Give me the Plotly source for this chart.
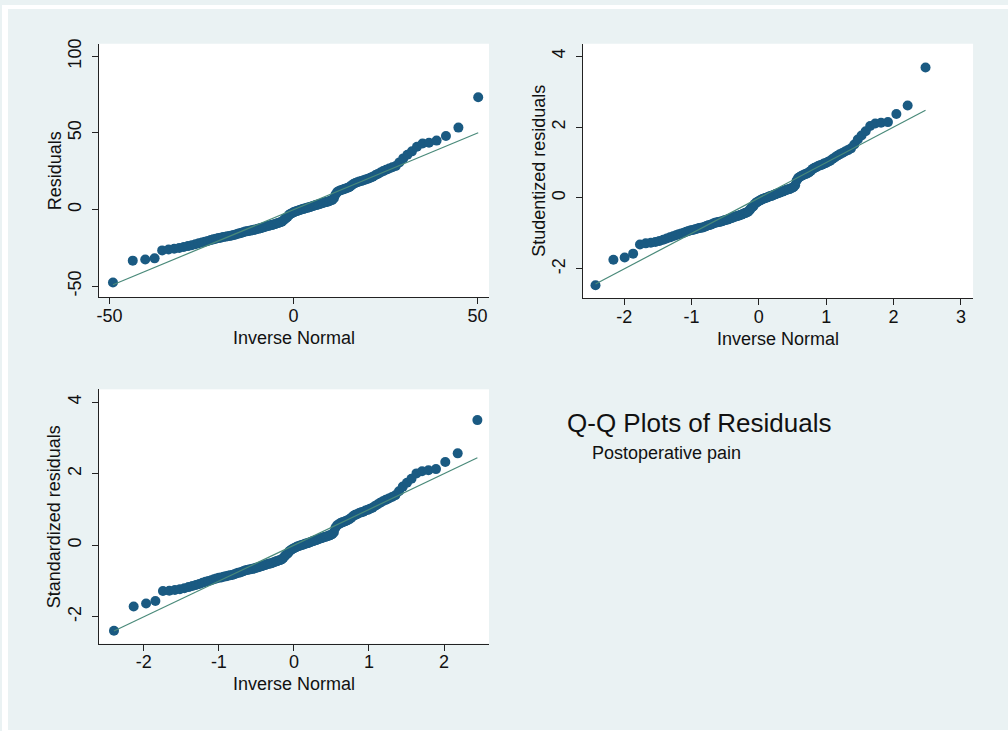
import statistics
import plotly.graph_objects as go

# Sorted residuals from the postoperative pain model (n = 130)
residuals = [
    -47.6, -33.3, -32.5, -31.8, -26.6, -26.0, -25.5, -25.0, -24.4, -23.8,
    -23.2, -22.6, -22.0, -21.4, -20.9, -20.4, -19.9, -19.4, -19.0, -18.6,
    -18.3, -17.9, -17.7, -17.4, -17.2, -16.9, -16.5, -16.2, -15.8, -15.5,
    -15.1, -14.7, -14.3, -14.1, -13.9, -13.7, -13.5, -13.2, -12.9, -12.7,
    -12.4, -12.1, -11.8, -11.5, -11.2, -10.9, -10.6, -10.4, -10.1, -9.8,
    -9.5, -9.2, -8.9, -8.6, -8.3, -7.9, -7.1, -6.2, -5.4, -4.7,
    -3.4, -2.8, -2.3, -1.8, -1.4, -1.0, -0.7, -0.4, -0.1, 0.2,
    0.5, 0.8, 1.1, 1.3, 1.6, 1.9, 2.2, 2.5, 2.8, 3.1,
    3.4, 3.7, 4.0, 4.3, 4.6, 4.9, 5.2, 5.5, 5.9, 6.3,
    7.4, 9.9, 11.5, 12.1, 12.6, 13.0, 13.4, 13.8, 14.2, 14.8,
    15.8, 16.7, 17.3, 17.8, 18.3, 18.7, 19.2, 19.7, 20.2, 20.8,
    21.5, 22.4, 23.3, 24.2, 25.1, 26.0, 26.8, 27.6, 28.5, 30.8,
    33.4, 35.8, 38.0, 41.0, 43.1, 43.6, 45.0, 48.0, 53.5, 73.3,
]

# Sorted studentized residuals
studentized = [
    -2.46, -1.74, -1.68, -1.57, -1.31, -1.28, -1.26, -1.24, -1.21, -1.18,
    -1.14, -1.11, -1.08, -1.05, -1.02, -1.00, -0.98, -0.95, -0.93, -0.91,
    -0.90, -0.88, -0.87, -0.85, -0.84, -0.83, -0.81, -0.79, -0.77, -0.76,
    -0.74, -0.72, -0.70, -0.69, -0.68, -0.67, -0.66, -0.65, -0.63, -0.62,
    -0.61, -0.59, -0.58, -0.56, -0.55, -0.53, -0.52, -0.51, -0.50, -0.48,
    -0.47, -0.45, -0.44, -0.42, -0.41, -0.39, -0.35, -0.30, -0.26, -0.23,
    -0.17, -0.14, -0.11, -0.09, -0.07, -0.05, -0.03, -0.02, 0.00, 0.01,
    0.02, 0.04, 0.05, 0.06, 0.08, 0.09, 0.11, 0.12, 0.14, 0.15,
    0.17, 0.18, 0.20, 0.21, 0.23, 0.24, 0.25, 0.27, 0.29, 0.31,
    0.36, 0.49, 0.56, 0.59, 0.62, 0.64, 0.66, 0.68, 0.70, 0.73,
    0.77, 0.82, 0.85, 0.87, 0.90, 0.92, 0.94, 0.97, 0.99, 1.02,
    1.05, 1.10, 1.14, 1.19, 1.23, 1.27, 1.31, 1.35, 1.40, 1.51,
    1.65, 1.76, 1.88, 2.03, 2.10, 2.12, 2.14, 2.37, 2.61, 3.68,
]

# Sorted standardized residuals
standardized = [
    -2.39, -1.71, -1.63, -1.56, -1.28, -1.27, -1.25, -1.23, -1.20, -1.17,
    -1.14, -1.11, -1.08, -1.05, -1.02, -1.00, -0.98, -0.95, -0.93, -0.91,
    -0.90, -0.88, -0.87, -0.85, -0.84, -0.83, -0.81, -0.79, -0.77, -0.76,
    -0.74, -0.72, -0.70, -0.69, -0.68, -0.67, -0.66, -0.65, -0.63, -0.62,
    -0.61, -0.59, -0.58, -0.56, -0.55, -0.53, -0.52, -0.51, -0.50, -0.48,
    -0.47, -0.45, -0.44, -0.42, -0.41, -0.39, -0.35, -0.30, -0.26, -0.23,
    -0.17, -0.14, -0.11, -0.09, -0.07, -0.05, -0.03, -0.02, 0.00, 0.01,
    0.02, 0.04, 0.05, 0.06, 0.08, 0.09, 0.11, 0.12, 0.14, 0.15,
    0.17, 0.18, 0.20, 0.21, 0.23, 0.24, 0.25, 0.27, 0.29, 0.31,
    0.36, 0.49, 0.56, 0.59, 0.62, 0.64, 0.66, 0.68, 0.70, 0.73,
    0.77, 0.82, 0.85, 0.87, 0.90, 0.92, 0.94, 0.97, 0.99, 1.02,
    1.05, 1.10, 1.14, 1.19, 1.23, 1.27, 1.31, 1.35, 1.40, 1.51,
    1.64, 1.75, 1.86, 2.01, 2.07, 2.10, 2.13, 2.33, 2.57, 3.50,
]

y_titles = ["Residuals", "Studentized residuals", "Standardized residuals"]
x_title = "Inverse Normal"
main_title = "Q-Q Plots of Residuals"
sub_title = "Postoperative pain"

x_ticks = [[-50, 0, 50], [-2, -1, 0, 1, 2, 3], [-2, -1, 0, 1, 2]]
y_ticks = [[-50, 0, 50, 100], [-2, 0, 2, 4], [-2, 0, 2, 4]]

W, H = 1008, 731
FONT = "Liberation Sans, Arial, Helvetica, sans-serif"
BG = "#eaf2f3"
MARKER = "#1a5a82"
REFLINE = "#4a8a7a"
INK = "#111111"


def px_x(p):
    return p / W


def px_y(p):
    return 1 - p / H


def qnorm_points(values):
    """Theoretical normal quantiles (mean/sd of the sample), as in Stata's qnorm."""
    n = len(values)
    m = statistics.fmean(values)
    s = statistics.stdev(values)
    nd = statistics.NormalDist()
    xs = [m + s * nd.inv_cdf(i / (n + 1)) for i in range(1, n + 1)]
    return xs, sorted(values)


# panel geometry in pixels: (left, right, top, bottom)
panels = [
    (97, 488, 39, 294),
    (582, 973, 39, 295),
    (97, 488, 387, 643),
]
x_ranges = [[-52.9, 53.1], [-2.613, 3.18], [-2.6, 2.6]]
y_ranges = [[-57.0, 108.2], [-2.82, 4.35], [-2.75, 4.36]]

series = [residuals, studentized, standardized]

fig = go.Figure()
layout = dict(
    width=W, height=H,
    margin=dict(l=0, r=0, t=0, b=0),
    paper_bgcolor=BG,
    plot_bgcolor="white",
    showlegend=False,
    font=dict(family=FONT, color=INK, size=18),
)

annotations = []
for k, (vals, (l, r, t, b)) in enumerate(zip(series, panels)):
    suffix = "" if k == 0 else str(k + 1)
    xa, ya = "x" + suffix, "y" + suffix
    qx, qy = qnorm_points(vals)
    fig.add_trace(go.Scatter(
        x=qx, y=qy, mode="markers", xaxis=xa, yaxis=ya,
        marker=dict(size=10, color=MARKER, line=dict(width=0)),
        hoverinfo="x+y",
    ))
    # reference line y = x across the range of theoretical quantiles
    fig.add_trace(go.Scatter(
        x=[qx[0], qx[-1]], y=[qx[0], qx[-1]], mode="lines",
        xaxis=xa, yaxis=ya,
        line=dict(color=REFLINE, width=1.2),
        hoverinfo="skip",
    ))
    axis_common = dict(
        showgrid=False, zeroline=False, showline=True,
        linecolor="#222222", linewidth=1,
        ticks="outside", ticklen=6, tickwidth=1, tickcolor="#222222",
        tickfont=dict(family=FONT, size=18, color=INK),
    )
    layout["xaxis" + suffix] = dict(
        axis_common,
        domain=[px_x(l), px_x(r)], range=x_ranges[k],
        tickmode="array", tickvals=x_ticks[k],
        ticktext=[str(v) for v in x_ticks[k]],
        ticklabelstandoff=-4,
        anchor=ya,
    )
    layout["yaxis" + suffix] = dict(
        axis_common,
        domain=[px_y(b), px_y(t)], range=y_ranges[k],
        tickmode="array", tickvals=y_ticks[k],
        ticktext=[str(v) for v in y_ticks[k]],
        tickangle=-90, ticklabelstandoff=4,
        anchor=xa,
    )
    # axis titles
    annotations.append(dict(
        text=x_title, xref="paper", yref="paper",
        x=px_x((l + r) / 2), y=px_y(b + 41),
        xanchor="center", yanchor="middle", showarrow=False,
        font=dict(family=FONT, size=18, color=INK),
    ))
    annotations.append(dict(
        text=y_titles[k], xref="paper", yref="paper",
        x=px_x(l - 44), y=px_y((t + b) / 2),
        xanchor="center", yanchor="middle", showarrow=False, textangle=-90,
        font=dict(family=FONT, size=18, color=INK),
    ))

annotations.append(dict(
    text=main_title, xref="paper", yref="paper",
    x=px_x(564), y=px_y(421), xanchor="left", yanchor="middle",
    showarrow=False, font=dict(family=FONT, size=26, color=INK),
))
annotations.append(dict(
    text=sub_title, xref="paper", yref="paper",
    x=px_x(589), y=px_y(451), xanchor="left", yanchor="middle",
    showarrow=False, font=dict(family=FONT, size=18, color=INK),
))

layout["annotations"] = annotations
# thin white page margins around the graph region
layout["shapes"] = [
    dict(type="rect", xref="paper", yref="paper", x0=0, x1=px_x(6), y0=0, y1=1,
         fillcolor="white", line=dict(width=0), layer="below"),
    dict(type="rect", xref="paper", yref="paper", x0=0, x1=1, y0=px_y(4), y1=1,
         fillcolor="white", line=dict(width=0), layer="below"),
    dict(type="rect", xref="paper", yref="paper", x0=0, x1=1, y0=0, y1=px_y(730),
         fillcolor="white", line=dict(width=0), layer="below"),
]

fig.update_layout(**layout)
fig.write_html("out.html")
